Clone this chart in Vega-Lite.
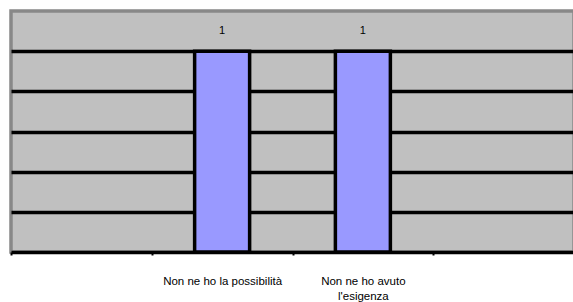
{
  "$schema": "https://vega.github.io/schema/vega-lite/v6.json",
  "autosize": {"type": "none"},
  "width": 563,
  "height": 241,
  "padding": {"left": 11, "top": 11, "right": 0, "bottom": 50},
  "background": "white",
  "config": {
    "view": {"fill": "#c0c0c0", "stroke": "#888888", "strokeWidth": 3.5},
    "font": "Liberation Sans"
  },
  "data": {
    "values": [
      {"risposta": "vuoto1", "n": null},
      {"risposta": "Non ne ho la possibilità", "n": 1},
      {"risposta": "Non ne ho avuto l'esigenza", "n": 1},
      {"risposta": "vuoto2", "n": null}
    ]
  },
  "encoding": {
    "x": {
      "field": "risposta",
      "type": "nominal",
      "sort": null,
      "scale": {"domain": ["vuoto1", "Non ne ho la possibilità", "Non ne ho avuto l'esigenza", "vuoto2"], "paddingInner": 0, "paddingOuter": 0},
      "axis": {
        "title": null,
        "labelAngle": 0,
        "labelFont": "Liberation Sans",
        "labelFontSize": 11.5,
        "labelColor": "#000000",
        "labelPadding": 20,
        "labelLineHeight": 15,
        "labelBaseline": "top",
        "labelExpr": "datum.value == 'Non ne ho avuto l\\'esigenza' ? ['Non ne ho avuto', 'l\\'esigenza'] : (datum.value == 'Non ne ho la possibilità' ? datum.value : '')",
        "domainColor": "#000000",
        "domainWidth": 3.5,
        "tickColor": "#000000",
        "tickWidth": 2,
        "tickSize": 3,
        "tickBand": "extent",
        "grid": false
      }
    },
    "y": {
      "field": "n",
      "type": "quantitative",
      "scale": {"domain": [0, 1.2], "nice": false},
      "axis": {
        "title": null,
        "labels": false,
        "ticks": false,
        "domain": false,
        "grid": true,
        "gridColor": "#000000",
        "gridWidth": 3.5,
        "gridOpacity": 1,
        "values": [0.2, 0.4, 0.6, 0.8, 1.0]
      }
    }
  },
  "layer": [
    {
      "mark": {"type": "bar", "width": 55, "fill": "#9999ff", "stroke": "#000000", "strokeWidth": 3.5}
    },
    {
      "mark": {"type": "text", "baseline": "middle", "dy": -20, "fontSize": 11, "font": "Liberation Sans", "color": "#000000"},
      "encoding": {"text": {"field": "n", "type": "quantitative"}}
    }
  ]
}
